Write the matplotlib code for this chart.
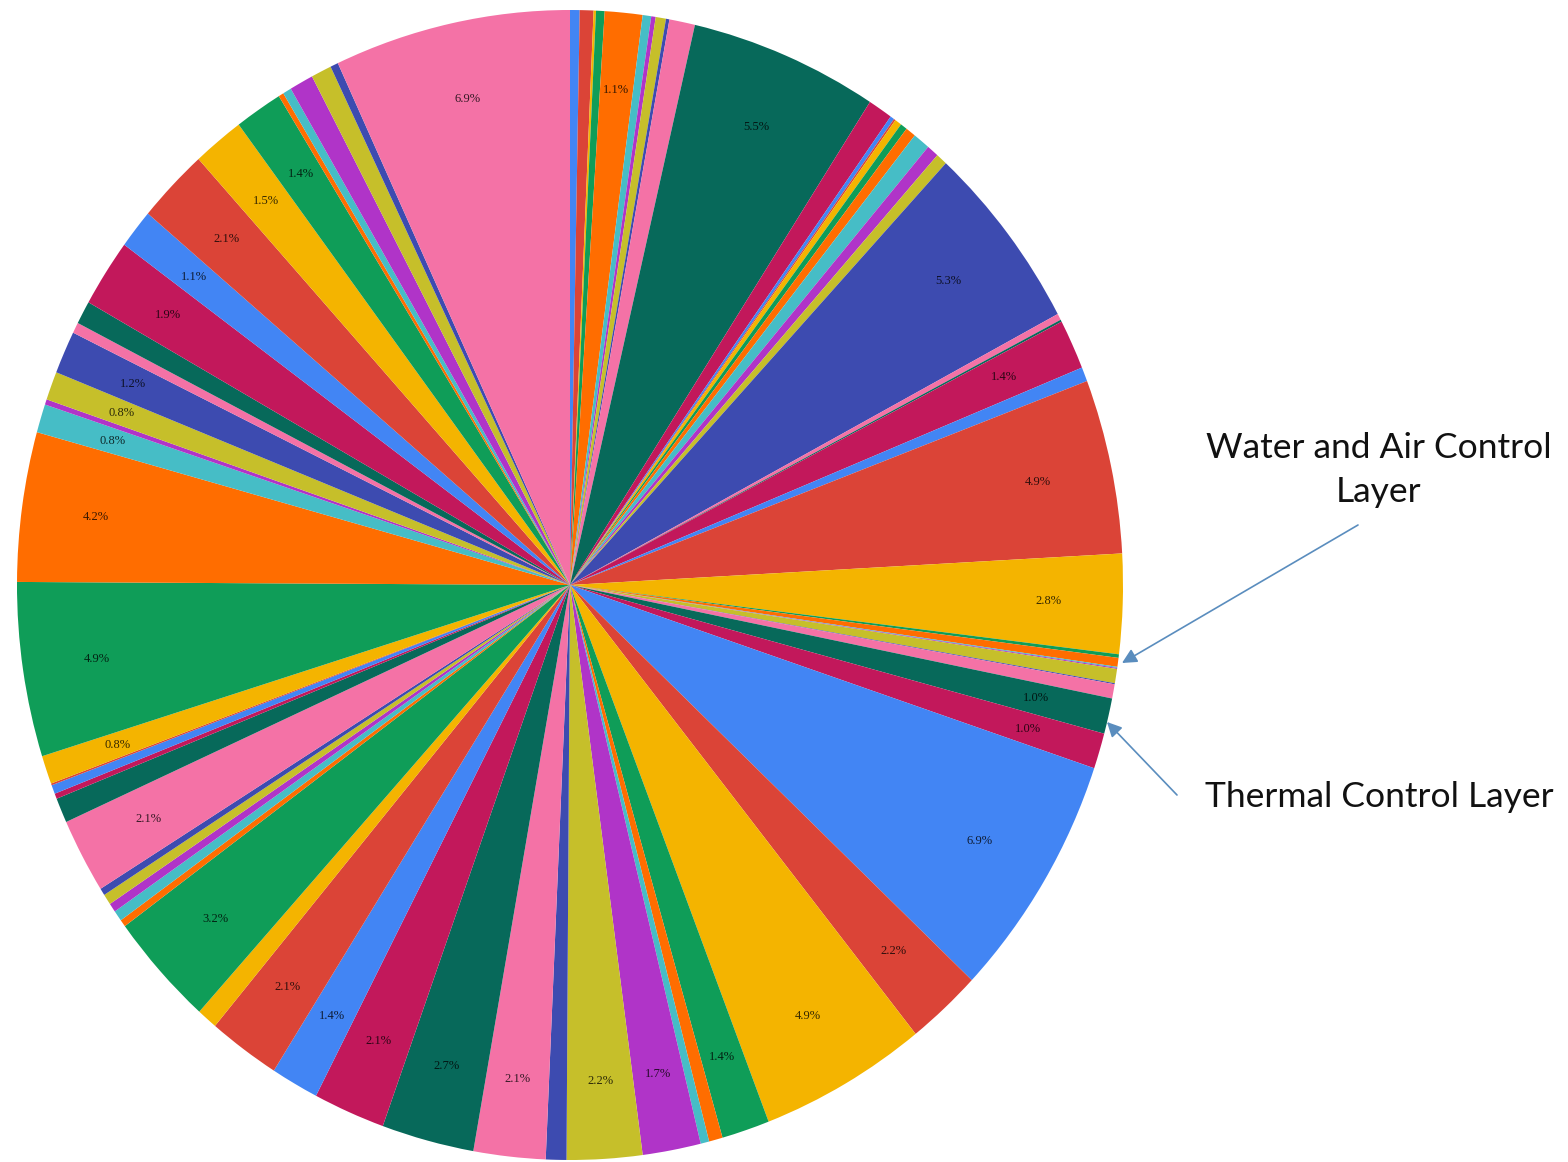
import matplotlib
matplotlib.use("Agg")
import matplotlib.pyplot as plt
import numpy as np

# colour cycle used by the chart (12 colours, repeats clockwise from 12 o'clock)
palette = ["#4285F4", "#DB4437", "#F4B400", "#0F9D58", "#FF6D00", "#46BDC6",
           "#B034C8", "#C6BF2A", "#3D4BB0", "#F472A6", "#07695A", "#C2185B"]

# slice shares in percent, clockwise from the top, one row per colour cycle
cycle1 = [0.28, 0.40, 0.07, 0.25, 1.1, 0.25, 0.13, 0.30, 0.10, 0.75, 5.5, 0.72]
cycle2 = [0.12, 0.05, 0.20, 0.20, 0.30, 0.50, 0.35, 0.33, 5.3, 0.18, 0.06, 1.4]
cycle3 = [0.40, 4.9, 2.8, 0.10, 0.25, 0.03, 0.03, 0.40, 0.03, 0.40, 1.0, 1.0]
cycle4 = [6.9, 2.2, 4.9, 1.4, 0.40, 0.25, 1.7, 2.2, 0.60, 2.1, 2.7, 2.1]
cycle5 = [1.4, 2.1, 0.60, 3.2, 0.20, 0.30, 0.25, 0.30, 0.20, 2.1, 0.70, 0.15]
cycle6 = [0.25, 0.05, 0.8, 4.9, 4.2, 0.8, 0.15, 0.8, 1.2, 0.30, 0.65, 1.9]
cycle7 = [1.1, 2.1, 1.5, 1.4, 0.15, 0.25, 0.70, 0.60, 0.23, 6.9]

shares = cycle1 + cycle2 + cycle3 + cycle4 + cycle5 + cycle6 + cycle7
slice_colors = [palette[i % len(palette)] for i in range(len(shares))]

callout_top = "Water and Air Control\nLayer"
callout_bottom = "Thermal Control Layer"

W, H = 1568, 1162
fig = plt.figure(figsize=(W / 100, H / 100), dpi=100)
ax = fig.add_axes([0, 0, 1, 1])


def pct_label(p):
    return f"{p:.1f}%" if p >= 0.78 else ""


wedges, texts, autotexts = ax.pie(
    shares, colors=slice_colors, startangle=90, counterclock=False,
    radius=1.0, autopct=pct_label, pctdistance=0.865,
    wedgeprops=dict(linewidth=0),
    textprops=dict(family="Liberation Serif", fontsize=9))

for w, t in zip(wedges, autotexts):
    fc = np.array(w.get_facecolor()[:3])
    t.set_color(tuple(fc * 0.22))

# the reference pie is slightly taller than wide
cx, cy = 570, H - 585
rx, ry = 553, 575
ax.set_aspect("auto")
ax.set_xlim(-cx / rx, (W - cx) / rx)
ax.set_ylim(-cy / ry, (H - cy) / ry)
ax.axis("off")

fig.text(1379 / W, 1 - 470 / H, callout_top, ha="center", va="center",
         family="Lato", fontsize=25.5, linespacing=1.5, color="#111111")
fig.text(1379 / W, 1 - 797 / H, callout_bottom, ha="center", va="center",
         family="Lato", fontsize=25.5, color="#111111")

arrow_kw = dict(arrowstyle="-|>", color="#5A8DBE", lw=1.2, mutation_scale=22,
                shrinkA=0, shrinkB=0)
ax.annotate("", xy=(1122, H - 663), xytext=(1358, H - 525),
            xycoords="figure pixels", textcoords="figure pixels", arrowprops=arrow_kw)
ax.annotate("", xy=(1107, H - 722), xytext=(1177, H - 795),
            xycoords="figure pixels", textcoords="figure pixels", arrowprops=arrow_kw)

fig.savefig("out.png", dpi=100)
